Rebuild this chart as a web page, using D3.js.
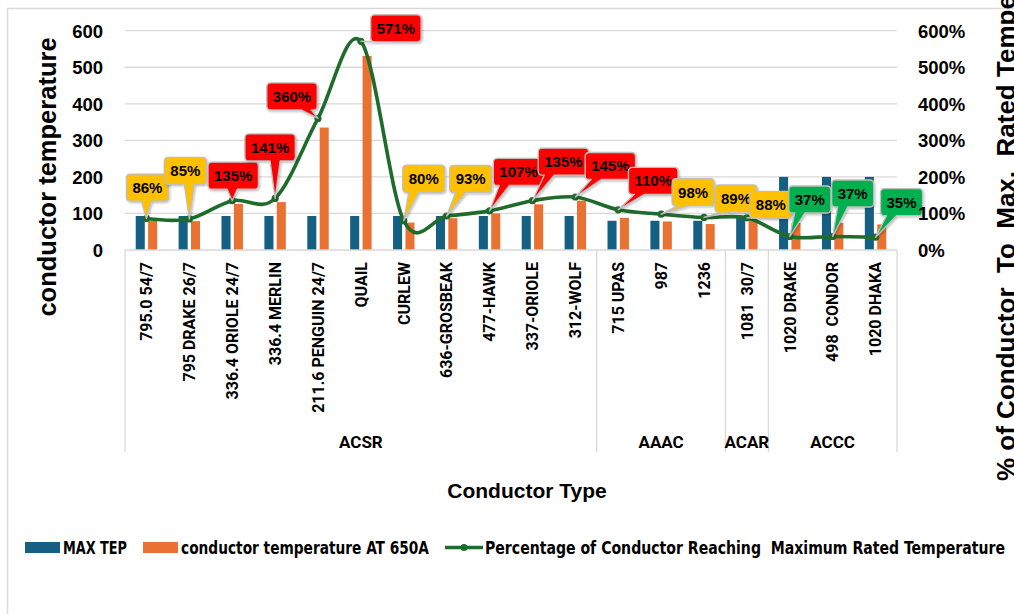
<!DOCTYPE html>
<html>
<head>
<meta charset="utf-8">
<script src="https://cdn.jsdelivr.net/npm/d3@7"></script>
<style>
  html, body { margin: 0; padding: 0; background: #fff; }
  svg { display: block; }
</style>
</head>
<body>
<svg id="chart" width="1014" height="614"></svg>
<script>
// ---------------- DATA ----------------
const categories = [
  "795.0 54/7", "795 DRAKE 26/7", "336.4 ORIOLE 24/7", "336.4 MERLIN",
  "211.6 PENGUIN 24/7", "QUAIL", "CURLEW", "636-GROSBEAK", "477-HAWK",
  "337-ORIOLE", "312-WOLF",
  "715 UPAS", "987", "1236",
  "1081  30/7",
  "1020 DRAKE", "498  CONDOR", "1020 DHAKA"
];
const groupNames = ["ACSR", "AAAC", "ACAR", "ACCC"];
const groupSizes = [11, 3, 1, 3];
const maxTemp = [93, 93, 93, 93, 93, 93, 93, 93, 93, 93, 93, 80, 80, 80, 93, 200, 200, 200];
const tempAt650 = [80, 79, 126, 131, 335, 531, 75, 87, 100, 125, 135, 88, 78, 71, 82, 74, 74, 70];
const pctReach = [86, 85, 135, 141, 360, 571, 80, 93, 107, 135, 145, 110, 98, 89, 88, 37, 37, 35];
const leftTicks = [0, 100, 200, 300, 400, 500, 600];
const rightTicks = [0, 100, 200, 300, 400, 500, 600];
const seriesNames = ["MAX TEP", "conductor temperature AT 650A", "Percentage of Conductor Reaching  Maximum Rated Temperature"];

// layout: callout box centre offsets relative to the line point (px)
const calloutOffsets = [
  [1, -31], [-4, -48], [1, -25], [-5, -51], [-26, -22], [35, -13],
  [20, -42], [24, -37], [29, -39], [31, -39], [35, -31], [35, -29],
  [32, -22], [32, -19], [24, -13], [20, -37], [20, -43], [26, -35]
];

// ---------------- STYLE ----------------
const C_BLUE = "#156082", C_ORANGE = "#E97132", C_LINE = "#1f6b2b";
const GRID = "#d9d9d9";
const ARIAL = "'Liberation Sans', Arial, sans-serif";
const CAT_FONT = "Roboto, 'Liberation Sans', sans-serif";
const NARROW = "'Liberation Sans Narrow', 'Arial Narrow', 'DejaVu Sans Condensed', sans-serif";

const svg = d3.select("#chart");
const defs = svg.append("defs");
const f = defs.append("filter").attr("id", "shadow").attr("x", "-20%").attr("y", "-20%")
  .attr("width", "150%").attr("height", "160%");
f.append("feDropShadow").attr("dx", 1).attr("dy", 1.2).attr("stdDeviation", 0.9)
  .attr("flood-color", "#000").attr("flood-opacity", 0.28);

const plot = { left: 125, right: 897, top: 30.7, bottom: 250 };

// chart border
svg.append("rect").attr("x", 7.5).attr("y", 8.5).attr("width", 1100).attr("height", 700)
  .attr("fill", "#fff").attr("stroke", GRID).attr("stroke-width", 1.5);

const x = d3.scaleBand().domain(categories).range([plot.left, plot.right]).padding(0);
const bw = x.bandwidth();
const xSub = d3.scaleBand().domain(["max", "temp"]).range([bw * 0.25, bw * 0.75]).paddingInner(0.27);
const yL = d3.scaleLinear().domain([0, 600]).range([plot.bottom, plot.top]);
const yR = d3.scaleLinear().domain([0, 600]).range([plot.bottom, plot.top]);

// gridlines
svg.append("g").selectAll("line").data(leftTicks.filter(d => d > 0)).join("line")
  .attr("x1", plot.left).attr("x2", plot.right)
  .attr("y1", d => yL(d)).attr("y2", d => yL(d))
  .attr("stroke", GRID).attr("stroke-width", 1.3);

// left axis
const axL = d3.axisLeft(yL).tickValues(leftTicks).tickSize(0).tickPadding(0).tickFormat(d3.format("d"));
const gL = svg.append("g").attr("transform", "translate(103,0)").call(axL);
gL.select(".domain").remove();
gL.selectAll("text").attr("font-family", ARIAL).attr("font-weight", "bold")
  .attr("font-size", "18.5px").attr("fill", "#000").attr("dy", "0.35em");

// right axis
const axR = d3.axisRight(yR).tickValues(rightTicks).tickSize(0).tickPadding(0).tickFormat(d => d + "%");
const gR = svg.append("g").attr("class", "raxis").attr("transform", "translate(918,0)");

// bars
const barG = svg.append("g");
barG.selectAll("rect.max").data(categories).join("rect").attr("class", "max")
  .attr("x", (d, i) => x(d) + xSub("max")).attr("width", xSub.bandwidth())
  .attr("y", (d, i) => yL(maxTemp[i])).attr("height", (d, i) => yL(0) - yL(maxTemp[i]))
  .attr("fill", C_BLUE);
barG.selectAll("rect.temp").data(categories).join("rect").attr("class", "temp")
  .attr("x", (d, i) => x(d) + xSub("temp")).attr("width", xSub.bandwidth())
  .attr("y", (d, i) => yL(tempAt650[i])).attr("height", (d, i) => yL(0) - yL(tempAt650[i]))
  .attr("fill", C_ORANGE);

// category axis line + group separators
const axG = svg.append("g");
axG.append("line").attr("x1", plot.left).attr("x2", plot.right)
  .attr("y1", plot.bottom).attr("y2", plot.bottom).attr("stroke", GRID).attr("stroke-width", 1.3);
let acc = 0;
const bounds = [0];
groupSizes.forEach(s => { acc += s; bounds.push(acc); });
bounds.forEach(b => {
  const bx = b < categories.length ? x(categories[b]) : plot.right;
  axG.append("line").attr("x1", bx).attr("x2", bx).attr("y1", plot.bottom).attr("y2", 452)
    .attr("stroke", GRID).attr("stroke-width", 1.3);
});
// category labels
axG.selectAll("text.cat").data(categories).join("text").attr("class", "cat")
  .attr("transform", d => `translate(${x(d) + bw / 2},262) rotate(-90)`)
  .attr("text-anchor", "end").attr("dy", "0.36em")
  .attr("font-family", CAT_FONT).attr("font-weight", "bold").attr("font-size", "16px")
  .attr("fill", "#000").style("white-space", "pre")
  .text(d => d);
// group labels
groupNames.forEach((g, k) => {
  const a = x(categories[bounds[k]]);
  const b = bounds[k + 1] < categories.length ? x(categories[bounds[k + 1]]) : plot.right;
  axG.append("text").attr("x", (a + b) / 2).attr("y", 442).attr("dy", "0.36em")
    .attr("text-anchor", "middle").attr("font-family", CAT_FONT).attr("font-weight", "bold")
    .attr("font-size", "17px").attr("fill", "#000").text(g);
});

// line
const pts = categories.map((c, i) => [x(c) + bw / 2, yR(pctReach[i])]);
svg.append("path").datum(pts)
  .attr("d", d3.line().curve(d3.curveCardinal.tension(0)))
  .attr("fill", "none").attr("stroke", C_LINE).attr("stroke-width", 3.6)
  .attr("stroke-linejoin", "round");
svg.append("g").selectAll("circle").data(pts).join("circle")
  .attr("cx", d => d[0]).attr("cy", d => d[1]).attr("r", 3.6)
  .attr("fill", C_LINE);

// callouts
function calloutPath(l, t, w, h, px, py) {
  const r = 4, R = l + w, B = t + h, hw = 5;
  if (py > B - 3) {
    const bx = Math.max(l + r + hw + 2, Math.min(R - r - hw - 2, px));
    return `M${l + r},${t}H${R - r}Q${R},${t} ${R},${t + r}V${B - r}Q${R},${B} ${R - r},${B}` +
      `H${bx + hw}L${px},${py}L${bx - hw},${B}H${l + r}Q${l},${B} ${l},${B - r}V${t + r}Q${l},${t} ${l + r},${t}Z`;
  }
  const by = Math.max(t + r + hw + 2, Math.min(B - r - hw - 2, py));
  return `M${l + r},${t}H${R - r}Q${R},${t} ${R},${t + r}V${B - r}Q${R},${B} ${R - r},${B}` +
    `H${l + r}Q${l},${B} ${l},${B - r}V${by + hw}L${px},${py}L${l},${by - hw}V${t + r}Q${l},${t} ${l + r},${t}Z`;
}
function calloutColor(v) { return v > 100 ? "#ff0000" : (v >= 50 ? "#ffc000" : "#00b050"); }
const cg = svg.append("g");
pctReach.forEach((v, i) => {
  const [px, py] = pts[i];
  const cx = px + calloutOffsets[i][0], cy = py + calloutOffsets[i][1];
  const g = cg.append("g");
  const path = g.append("path");
  const t = g.append("text").attr("x", cx).attr("y", cy).attr("dy", "0.36em")
    .attr("text-anchor", "middle").attr("font-family", ARIAL).attr("font-weight", "bold")
    .attr("font-size", "15px").attr("fill", "#000").text(v + "%");
  const tw = t.node().getComputedTextLength();
  const w = tw + 12, h = 27;
  path.attr("d", calloutPath(cx - w / 2, cy - h / 2, w, h, px, py))
    .attr("fill", calloutColor(v)).attr("stroke", "#bfbfbf").attr("stroke-width", 1.3)
    .attr("stroke-linejoin", "round").attr("filter", "url(#shadow)");
});

// right axis drawn on top
gR.raise().call(axR);
gR.select(".domain").remove();
gR.selectAll("text").attr("font-family", ARIAL).attr("font-weight", "bold")
  .attr("font-size", "18.5px").attr("fill", "#000").attr("dy", "0.35em");

// axis titles
svg.append("text").attr("transform", "translate(48,177) rotate(-90)")
  .attr("text-anchor", "middle").attr("dy", "0.3em")
  .attr("font-family", ARIAL).attr("font-weight", "bold").attr("font-size", "25.5px")
  .attr("fill", "#000").text("conductor temperature");
svg.append("text").attr("transform", "translate(1007,481) rotate(-90)")
  .attr("text-anchor", "start").attr("dy", "0.3em").style("white-space", "pre")
  .attr("font-family", ARIAL).attr("font-weight", "bold").attr("font-size", "26px")
  .attr("fill", "#000").text("% of Conductor  To  Max.  Rated Temperature");
svg.append("text").attr("x", 527).attr("y", 490).attr("dy", "0.36em")
  .attr("text-anchor", "middle").attr("font-family", ARIAL).attr("font-weight", "bold")
  .attr("font-size", "21px").attr("fill", "#000").text("Conductor Type");

// legend
const lg = svg.append("g");
const ly = 547.5;
let lx = 25;
const legendTextLen = [64, 248, 520];
seriesNames.forEach((name, i) => {
  if (i < 2) {
    lg.append("rect").attr("x", lx).attr("y", ly - 5.5).attr("width", 35).attr("height", 11)
      .attr("fill", i === 0 ? C_BLUE : C_ORANGE);
    lx += 38;
  } else {
    lg.append("line").attr("x1", lx).attr("x2", lx + 38).attr("y1", ly).attr("y2", ly)
      .attr("stroke", C_LINE).attr("stroke-width", 3.6);
    lg.append("circle").attr("cx", lx + 19).attr("cy", ly).attr("r", 3.6).attr("fill", C_LINE);
    lx += 40;
  }
  lg.append("text").attr("x", lx).attr("y", ly).attr("dy", "0.36em")
    .attr("font-family", NARROW).attr("font-weight", "bold").attr("font-size", "17px")
    .attr("fill", "#000").style("white-space", "pre").text(name)
    .attr("textLength", legendTextLen[i]).attr("lengthAdjust", "spacingAndGlyphs");
  lx += legendTextLen[i] + 16;
});
</script>
</body>
</html>
